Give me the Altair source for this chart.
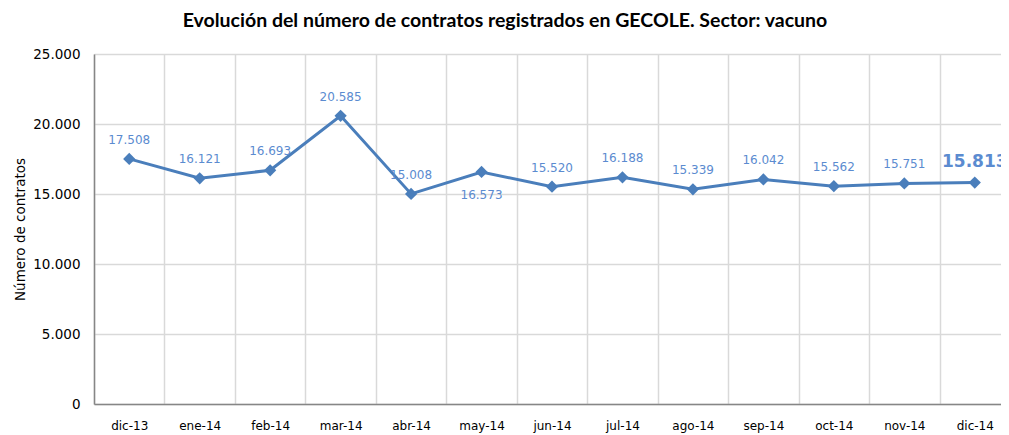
import altair as alt
import pandas as pd

months = ["dic-13", "ene-14", "feb-14", "mar-14", "abr-14", "may-14", "jun-14",
          "jul-14", "ago-14", "sep-14", "oct-14", "nov-14", "dic-14"]
values = [17508, 16121, 16693, 20585, 15008, 16573, 15520,
          16188, 15339, 16042, 15562, 15751, 15813]
y_ticks = [0, 5000, 10000, 15000, 20000, 25000]

df = pd.DataFrame({"mes": months, "contratos": values})
last = months[-1]
below = ["may-14"]

LINE = "#4a7ebb"
LABEL = "#5b8bd0"
FONT = "DejaVu Sans"
TFONT = "Lato"

x = alt.X("mes:N", sort=months, title=None,
          scale=alt.Scale(type="band", paddingInner=0, paddingOuter=0),
          axis=alt.Axis(tickBand="extent", grid=True, gridColor="#d9d9d9", gridWidth=1.5,
                        ticks=False, labelAngle=0, labelFont=FONT, labelFontSize=12,
                        labelColor="#000000", labelPadding=16, domainColor="#868686",
                        domainWidth=1.5))
y = alt.Y("contratos:Q", title="Número de contratos",
          scale=alt.Scale(domain=[0, 25000], nice=False),
          axis=alt.Axis(values=y_ticks, format=",d", grid=True, gridColor="#d9d9d9",
                        gridWidth=1.5, ticks=False, labelFont=FONT, labelFontSize=13.5,
                        labelColor="#000000", labelPadding=14, domainColor="#868686",
                        domainWidth=1.5, titleFont=FONT,
                        titleFontSize=13.5, titleFontWeight="normal", titleColor="#000000",
                        titlePadding=5))

base = alt.Chart(df)

line = base.mark_line(color=LINE, strokeWidth=3, point=alt.OverlayMarkDef(
    shape="diamond", size=150, filled=True, color=LINE, opacity=1)).encode(x=x, y=y)

lab_above = base.mark_text(color=LABEL, font=FONT, fontSize=12, dy=-19).encode(
    x=x, y=y, text=alt.Text("contratos:Q", format=",d")
).transform_filter(
    alt.FieldOneOfPredicate(field="mes", oneOf=[m for m in months if m not in below and m != last])
)
lab_below = base.mark_text(color=LABEL, font=FONT, fontSize=12, dy=23).encode(
    x=x, y=y, text=alt.Text("contratos:Q", format=",d")
).transform_filter(alt.FieldOneOfPredicate(field="mes", oneOf=below))
lab_last = base.mark_text(color=LABEL, font=FONT, fontSize=17, fontWeight="bold", dy=-21).encode(
    x=x, y=y, text=alt.Text("contratos:Q", format=",d")
).transform_filter(alt.FieldEqualPredicate(field="mes", equal=last))

chart = alt.layer(line, lab_above, lab_below, lab_last).properties(
    width=916, height=350,
    title=alt.TitleParams(
        "Evolución del número de contratos registrados en GECOLE. Sector: vacuno",
        font=TFONT, fontSize=19.5, fontWeight="bold", color="#000000",
        anchor="middle", dx=-47, offset=16),
    autosize=alt.AutoSizeParams(type="none"),
    padding={"left": 86, "top": 46, "right": -9, "bottom": 31},
).configure(
    locale=alt.Locale(number=alt.NumberLocale(decimal=",", thousands=".", grouping=[3],
                                              currency=["", " €"]))
).configure_view(stroke=None)

chart.save("out.html", embed_options={"renderer": "svg", "actions": False})
